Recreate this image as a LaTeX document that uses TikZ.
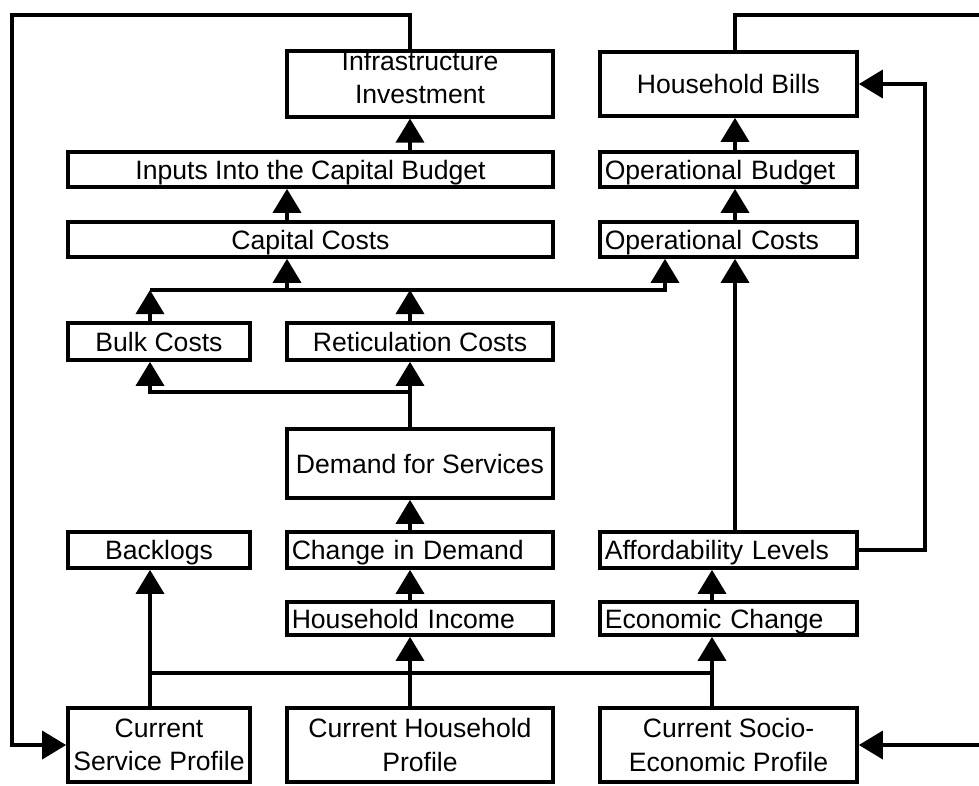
\documentclass[tikz,border=0pt]{standalone}
\usepackage{fontspec}
\setmainfont{Liberation Sans}
\usetikzlibrary{arrows.meta}

\tikzset{
	box/.style={draw, line width=2.6pt, align=center, inner xsep=2pt, font=\fontsize{18.9pt}{23.5pt}\selectfont},
	single/.style={box, inner ysep=0pt, text height=0.55cm, text depth=0.075cm},
	lbox/.style={single, align=left, inner xsep=0.12cm},
	link/.style={line width=2.6pt},
}

\begin{document}
\begin{tikzpicture}[x=0.025cm, y=-0.025cm, >={Triangle[width=0.7cm,length=0.6cm]}]
		\useasboundingbox (0,0) rectangle (979,785);
		% columns and rows the connectors run along
		\coordinate (cola) at (150,0);
		\coordinate (colcap) at (287,0);
		\coordinate (colmid) at (410,0);
		\coordinate (colopin) at (665,0);
		\coordinate (colecon) at (712,0);
		\coordinate (colop) at (735,0);
		\coordinate (ltop) at (12,15);
		\coordinate (rtop) at (995,15);
		\coordinate (feed) at (925,84);
		\coordinate (costbus) at (0,290);
		\coordinate (dembus) at (0,392);
		\coordinate (profbus) at (0,673);

		\node[box, minimum width=6.65cm, minimum height=1.6cm, inner ysep=0pt, text depth=0.33cm] (inv) at (420,84) {Infrastructure\\Investment};
		\node[single, minimum width=6.425cm, minimum height=1.6cm] (bills) at (728.5,84) {Household Bills};
		\node[single, minimum width=12.125cm, minimum height=0.875cm] (capbud) at (310.5,169.5) {Inputs Into the Capital Budget};
		\node[lbox, text width=6.185cm, minimum height=0.875cm] (opbud) at (728.5,169.5) {Operational Budget};
		\node[single, minimum width=12.125cm, minimum height=0.875cm] (capcost) at (310.5,239.5) {Capital Costs};
		\node[lbox, text width=6.185cm, minimum height=0.875cm] (opcost) at (728.5,239.5) {Operational Costs};
		\node[single, minimum width=4.55cm, minimum height=0.925cm] (bulk) at (159,341.5) {Bulk Costs};
		\node[single, minimum width=6.65cm, minimum height=0.925cm] (retic) at (420,341.5) {Reticulation Costs};
		\node[single, minimum width=6.65cm, minimum height=1.725cm] (demand) at (420,463.5) {Demand for Services};
		\node[single, minimum width=4.55cm, minimum height=0.9cm] (backlog) at (159,550) {Backlogs};
		\node[lbox, text width=6.41cm, minimum height=0.9cm] (change) at (420,550) {Change in Demand};
		\node[lbox, text width=6.185cm, minimum height=0.9cm] (afford) at (728.5,550) {Affordability Levels};
		\node[lbox, text width=6.41cm, minimum height=0.825cm] (income) at (420,618.5) {Household Income};
		\node[lbox, text width=6.185cm, minimum height=0.825cm] (econ) at (728.5,618.5) {Economic Change};
		\node[box, minimum width=4.55cm, minimum height=1.85cm] (servprof) at (159,745) {Current\\Service Profile};
		\node[box, minimum width=6.65cm, minimum height=1.85cm] (hhprof) at (420,745) {Current Household\\Profile};
		\node[box, minimum width=6.425cm, minimum height=1.85cm] (socprof) at (728.5,745) {Current Socio-\\Economic Profile};

		% profiles feed the lower row
		\draw[link] (cola |- profbus) -- (colecon |- profbus);
		\draw[link, ->] (servprof.north -| cola) -- (backlog.south -| cola);
		\draw[link, ->] (hhprof.north -| colmid) -- (income.south -| colmid);
		\draw[link, ->] (socprof.north -| colecon) -- (econ.south -| colecon);
		\draw[link, ->] (income.north -| colmid) -- (change.south -| colmid);
		\draw[link, ->] (change.north -| colmid) -- (demand.south -| colmid);
		\draw[link, ->] (econ.north -| colecon) -- (afford.south -| colecon);

		% demand splits into bulk and reticulation
		\draw[link, ->] (demand.north -| colmid) -- (retic.south -| colmid);
		\draw[link, ->] (colmid |- dembus) -| (bulk.south -| cola);

		% costs collect on one line
		\draw[link, ->] (bulk.north -| cola) -- (cola |- costbus);
		\draw[link, ->] (retic.north -| colmid) -- (colmid |- costbus);
		\draw[link, ->] (cola |- costbus) -| (opcost.south -| colopin);
		\draw[link, ->] (colcap |- costbus) -- (capcost.south -| colcap);
		\draw[link, ->] (capcost.north -| colcap) -- (capbud.south -| colcap);
		\draw[link, ->] (capbud.north -| colmid) -- (inv.south -| colmid);
		\draw[link, ->] (afford.north -| colop) -- (opcost.south -| colop);
		\draw[link, ->] (opcost.north -| colop) -- (opbud.south -| colop);
		\draw[link, ->] (opbud.north -| colop) -- (bills.south -| colop);
		\draw[link, ->] (afford.east) -| (feed) -- (bills.east);

		% loops back to the profiles
		\draw[link, ->] (inv.north -| colmid) |- (ltop) |- (servprof.west);
		\draw[link, ->] (bills.north -| colop) |- (rtop) |- (socprof.east);
	\end{tikzpicture}
\end{document}
